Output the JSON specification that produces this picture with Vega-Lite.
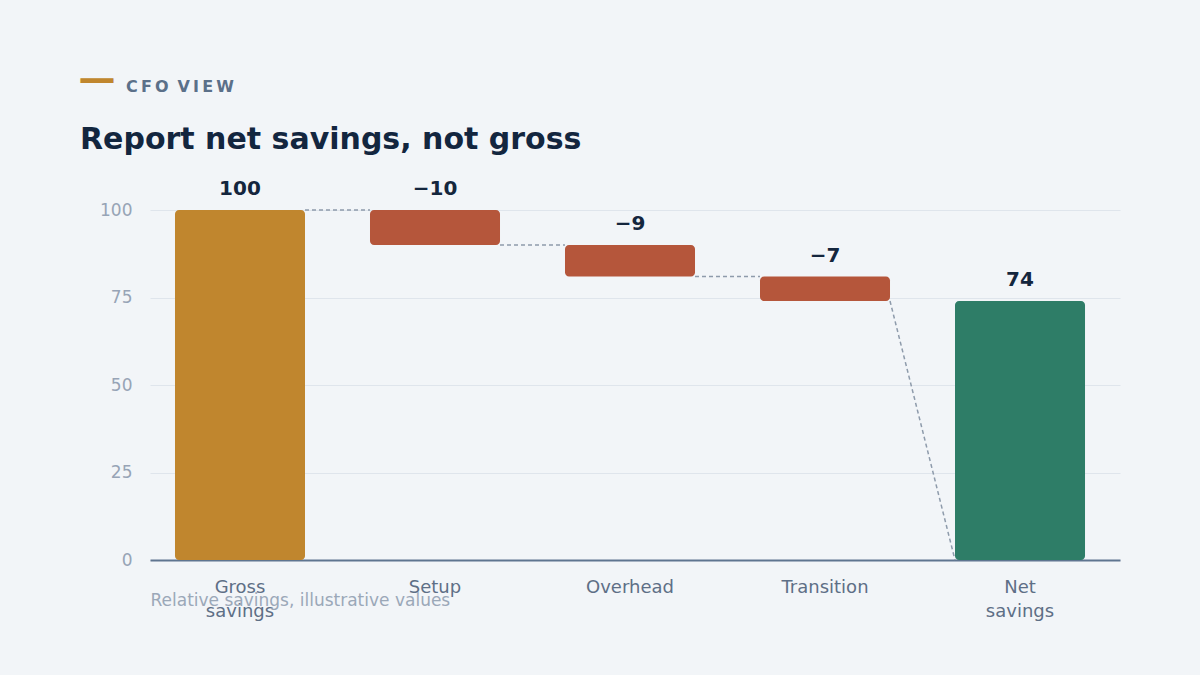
{
  "$schema": "https://vega.github.io/schema/vega-lite/v6.json",
  "width": 970,
  "height": 385,
  "autosize": {"type": "none"},
  "padding": {"left": 150, "top": 175, "right": 80, "bottom": 115},
  "background": "#f2f5f8",
  "title": {
    "text": "C\u2009F\u2009O \u2009V\u2009I\u2009E\u2009W",
    "subtitle": "Report net savings, not gross",
    "anchor": "start",
    "frame": "group",
    "offset": -95
  },
  "datasets": {
    "steps": [
      {"step": "Gross savings", "from": 0, "to": 100, "kind": "gross"},
      {"step": "Setup", "from": 100, "to": 90, "kind": "cost"},
      {"step": "Overhead", "from": 90, "to": 81, "kind": "cost"},
      {"step": "Transition", "from": 81, "to": 74, "kind": "cost"},
      {"step": "Net savings", "from": 0, "to": 74, "kind": "net"}
    ],
    "links": [
      {"left": "Gross savings", "right": "Setup", "level": 100, "next": 100},
      {"left": "Setup", "right": "Overhead", "level": 90, "next": 90},
      {"left": "Overhead", "right": "Transition", "level": 81, "next": 81},
      {"left": "Transition", "right": "Net savings", "level": 74, "next": 0}
    ]
  },
  "layer": [
    {
      "data": {"name": "links"},
      "mark": {"type": "rule", "color": "#8e9bab", "strokeWidth": 1.5, "strokeDash": [4, 3]},
      "encoding": {
        "x": {"field": "left", "type": "nominal", "bandPosition": 1},
        "x2": {"field": "right", "bandPosition": 0},
        "y": {"field": "level", "type": "quantitative"},
        "y2": {"field": "next"}
      }
    },
    {
      "data": {"name": "steps"},
      "mark": {"type": "bar", "cornerRadius": 4},
      "encoding": {
        "x": {
          "field": "step",
          "type": "nominal",
          "scale": {
            "domain": ["Gross savings", "Setup", "Overhead", "Transition", "Net savings"],
            "paddingInner": 0.3333,
            "paddingOuter": 0.1538,
            "align": 0.4167
          },
          "axis": {
            "labelAngle": 0,
            "labelAlign": "center",
            "labelBaseline": "top",
            "ticks": false,
            "grid": false,
            "domain": true,
            "domainColor": "#5f7590",
            "domainWidth": 2,
            "labelFontSize": 18,
            "labelColor": "#5e6f86",
            "labelPadding": 18,
            "labelLineHeight": 24,
            "labelExpr": "split(datum.label, ' ')",
            "title": "Relative savings, illustrative values",
            "titleX": 0,
            "titleY": 40,
            "titleAlign": "left",
            "titleAnchor": "start",
            "titleBaseline": "middle",
            "titleFontSize": 17,
            "titleFontWeight": "normal",
            "titleColor": "#9ba8b8"
          }
        },
        "y": {
          "field": "from",
          "type": "quantitative",
          "scale": {"domain": [0, 110], "nice": false},
          "axis": {
            "values": [0, 25, 50, 75, 100],
            "grid": true,
            "gridColor": "#dfe5ec",
            "gridWidth": 1,
            "domain": false,
            "ticks": false,
            "labelFontSize": 17,
            "labelColor": "#97a4b6",
            "labelPadding": 18,
            "title": "—",
            "titleX": -72,
            "titleY": -85,
            "titleAngle": 0,
            "titleAlign": "left",
            "titleBaseline": "alphabetic",
            "titleFontSize": 37,
            "titleFontWeight": "bold",
            "titleColor": "#c0862e"
          }
        },
        "y2": {"field": "to"},
        "color": {
          "field": "kind",
          "type": "nominal",
          "scale": {"domain": ["gross", "cost", "net"], "range": ["#c0862e", "#b5563b", "#2e7d67"]},
          "legend": null
        }
      }
    },
    {
      "data": {"name": "steps"},
      "transform": [
        {"calculate": "datum.to - datum.from", "as": "change"},
        {"calculate": "max(datum.from, datum.to)", "as": "top"}
      ],
      "mark": {"type": "text", "fontSize": 20, "fontWeight": "bold", "color": "#14263d", "baseline": "alphabetic", "dy": -15},
      "encoding": {
        "x": {"field": "step", "type": "nominal"},
        "y": {"field": "top", "type": "quantitative"},
        "text": {"field": "change", "type": "quantitative", "format": "d"}
      }
    }
  ],
  "config": {
    "font": "DejaVu Sans",
    "view": {"stroke": null},
    "title": {
      "font": "DejaVu Sans",
      "fontSize": 16,
      "fontWeight": "bold",
      "color": "#5b7089",
      "subtitleFont": "DejaVu Sans",
      "subtitleFontSize": 30,
      "subtitleFontWeight": "bold",
      "subtitleColor": "#13263f",
      "subtitlePadding": 30
    },
    "style": {
      "group-title": {"dx": -24},
      "group-subtitle": {"dx": -70}
    }
  }
}
